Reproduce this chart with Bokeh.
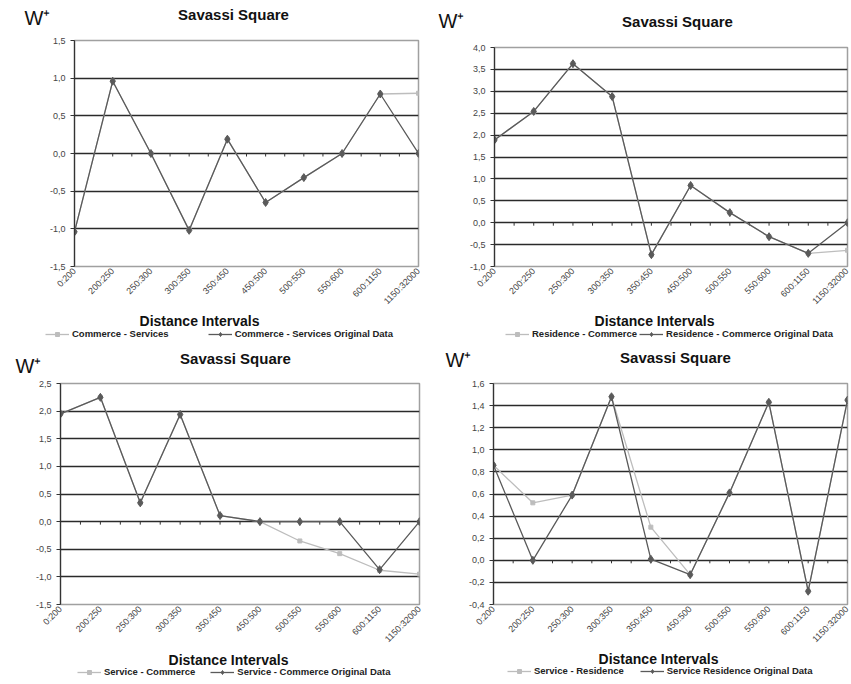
import math
import numpy as np
from bokeh.plotting import figure
from bokeh.layouts import column, row
from bokeh.models import (Range1d, FixedTicker, CustomJSTickFormatter, Label,
                          Legend, LegendItem)
from bokeh.embed import file_html
from bokeh.resources import INLINE

# ---------------- data ----------------
intervals = ["0:200", "200:250", "250:300", "300:350", "350:450", "450:500",
             "500:550", "550:600", "600:1150", "1150:32000"]

commerce_services = [-1.04, 0.96, 0.0, -1.02, 0.19, -0.65, -0.32, 0.0, 0.79, 0.80]
commerce_services_orig = [-1.04, 0.96, 0.0, -1.02, 0.19, -0.65, -0.32, 0.0, 0.79, 0.0]

residence_commerce = [1.89, 2.54, 3.63, 2.88, -0.73, 0.85, 0.23, -0.32, -0.70, -0.63]
residence_commerce_orig = [1.89, 2.54, 3.63, 2.88, -0.73, 0.85, 0.23, -0.32, -0.70, 0.0]

service_commerce = [1.95, 2.25, 0.34, 1.94, 0.11, 0.0, -0.35, -0.58, -0.88, -0.95]
service_commerce_orig = [1.95, 2.25, 0.34, 1.94, 0.11, 0.0, 0.0, 0.0, -0.87, 0.0]

service_residence = [0.86, 0.52, 0.59, 1.48, 0.30, -0.13, 0.61, 1.43, -0.28, 1.45]
service_residence_orig = [0.86, 0.0, 0.59, 1.48, 0.01, -0.13, 0.61, 1.43, -0.28, 1.45]

y_ticks_1 = [-1.5, -1.0, -0.5, 0.0, 0.5, 1.0, 1.5]
y_ticks_2 = [-1.0, -0.5, 0.0, 0.5, 1.0, 1.5, 2.0, 2.5, 3.0, 3.5, 4.0]
y_ticks_3 = [-1.5, -1.0, -0.5, 0.0, 0.5, 1.0, 1.5, 2.0, 2.5]
y_ticks_4 = [-0.4, -0.2, 0.0, 0.2, 0.4, 0.6, 0.8, 1.0, 1.2, 1.4, 1.6]

title_text = "Savassi Square"
x_title = "Distance Intervals"
w_text = "W\u207a"

FONT = "Liberation Sans"
DARK = "#5a5a5a"
LIGHT = "#bdbdbd"


def blank(width, height, yr=(0, 1)):
    f = figure(width=width, height=height, output_backend="svg",
               toolbar_location=None, title=None, min_border=0,
               x_axis_location=None, y_axis_location=None,
               x_range=Range1d(0, 1), y_range=Range1d(*yr))
    f.outline_line_color = None
    f.grid.grid_line_color = None
    f.background_fill_color = "white"
    f.border_fill_color = "white"
    return f


def text_label(fig, text, x, y, size, style, align="center"):
    fig.add_layout(Label(x=x, y=y, x_units="screen", y_units="screen",
                         text=text, text_font=FONT, text_font_size=size,
                         text_font_style=style, text_align=align,
                         text_baseline="middle", text_color="#111111"))


def draw_series(fig, light, dark):
    x = list(range(len(intervals)))
    l1 = fig.line(x, light, line_color=LIGHT, line_width=1.3)
    m1 = fig.scatter(x, light, marker="square", size=4,
                     fill_color=LIGHT, line_color=LIGHT)
    l2 = fig.line(x, dark, line_color=DARK, line_width=1.3)
    m2 = fig.scatter(x, dark, marker="diamond", size=8,
                     fill_color=DARK, line_color=DARK)
    return l1, m1, l2, m2


def make_panel(light, dark, light_name, dark_name, yticks, cell, frame,
               footer_top, w_pos, t_pos, xl_pos, leg_pos, leg_spacing):
    cx, cy, cw, ch = cell
    fl, ft, fr, fb = frame
    main_top = ft - 6

    # ---- header (W+ and title) ----
    header = blank(cw, main_top - cy)
    text_label(header, w_text, w_pos[0] - cx, main_top - w_pos[1], "20px", "normal")
    text_label(header, title_text, t_pos[0] - cx, main_top - t_pos[1], "15px", "bold")

    # ---- main chart ----
    p = figure(width=cw, height=footer_top - main_top, output_backend="svg",
               toolbar_location=None, title=None,
               x_range=Range1d(0, len(intervals) - 1),
               y_range=Range1d(yticks[0], yticks[-1]),
               min_border_left=fl - cx, min_border_right=cx + cw - fr,
               min_border_top=ft - main_top, min_border_bottom=footer_top - fb)
    p.background_fill_color = "white"
    p.border_fill_color = "white"
    p.outline_line_color = "#a0a0a0"
    p.outline_line_width = 1.5

    p.xaxis.ticker = FixedTicker(ticks=list(range(len(intervals))))
    p.xaxis.major_label_overrides = {i: s for i, s in enumerate(intervals)}
    p.xaxis.major_label_orientation = math.pi / 4
    p.xaxis.axis_line_color = None
    p.xaxis.major_tick_line_color = None
    p.xaxis.major_tick_in = 0
    p.xaxis.major_tick_out = 0
    p.xaxis.minor_tick_line_color = None
    p.xaxis.minor_tick_in = 0
    p.xaxis.minor_tick_out = 0
    p.xaxis.major_label_text_font = FONT
    p.xaxis.major_label_text_font_size = "9px"
    p.xaxis.major_label_text_color = "#444444"
    p.xaxis.major_label_standoff = 3

    p.yaxis.ticker = FixedTicker(ticks=yticks)
    p.yaxis.formatter = CustomJSTickFormatter(code="return tick.toFixed(1).replace('.', ',');")
    p.yaxis.axis_line_color = "#333333"
    p.yaxis.axis_line_width = 1.2
    p.yaxis.major_tick_line_color = "#333333"
    p.yaxis.major_tick_in = 0
    p.yaxis.major_tick_out = 4
    p.yaxis.minor_tick_line_color = None
    p.yaxis.major_label_text_font = FONT
    p.yaxis.major_label_text_font_size = "9px"
    p.yaxis.major_label_text_color = "#444444"
    p.yaxis.major_label_standoff = 5

    p.xgrid.grid_line_color = None
    p.ygrid.ticker = FixedTicker(ticks=yticks[1:-1])
    p.ygrid.grid_line_color = "#2a2a2a"
    p.ygrid.grid_line_width = 1.4

    # small tick marks along the zero line (category axis crossing at 0)
    half = np.arange(0, len(intervals) - 0.5, 0.5)
    p.ray(x=half, y=np.zeros_like(half), length=3, length_units="screen",
          angle=-math.pi / 2, line_color="#333333", line_width=1)

    draw_series(p, light, dark)

    # ---- footer (axis title and legend) ----
    # the footer's y range lies far from the data so its series stay hidden;
    # they only feed the legend swatches
    footer = blank(cw, cy + ch - footer_top, yr=(100, 101))
    fbot = cy + ch
    text_label(footer, x_title, xl_pos[0] - cx, fbot - xl_pos[1], "14px", "bold")
    l1, m1, l2, m2 = draw_series(footer, light, dark)
    legend = Legend(items=[LegendItem(label=light_name, renderers=[l1, m1]),
                           LegendItem(label=dark_name, renderers=[l2, m2])],
                    orientation="horizontal",
                    location=(leg_pos[0] - cx, fbot - leg_pos[1] - 5),
                    padding=0, margin=0, spacing=leg_spacing,
                    glyph_width=24, glyph_height=10, label_height=10,
                    label_standoff=3, border_line_color=None,
                    background_fill_alpha=0,
                    label_text_font=FONT, label_text_font_size="9.5px",
                    label_text_font_style="bold", label_text_color="#222222")
    footer.add_layout(legend)

    return column(row(header), row(p), row(footer), spacing=0)


c1 = make_panel(commerce_services, commerce_services_orig,
                "Commerce - Services", "Commerce - Services Original Data",
                y_ticks_1, (0, 0, 425, 340), (74, 40, 418, 268), 312,
                (37, 17), (233, 14), (199, 320), (45, 334), 39)
c2 = make_panel(residence_commerce, residence_commerce_orig,
                "Residence - Commerce", "Residence - Commerce Original Data",
                y_ticks_2, (425, 0, 425, 340), (494, 47, 847, 268), 312,
                (451, 20), (677, 21), (654, 320), (505, 334), 2)
c3 = make_panel(service_commerce, service_commerce_orig,
                "Service - Commerce", "Service - Commerce Original Data",
                y_ticks_3, (0, 340, 425, 342), (60, 383, 419, 606), 650,
                (28, 365), (235, 358), (228, 659), (77, 672), 15)
c4 = make_panel(service_residence, service_residence_orig,
                "Service - Residence", "Service Residence Original Data",
                y_ticks_4, (425, 340, 425, 342), (493, 383, 847, 606), 650,
                (458, 359), (675, 357), (658, 658), (507, 671), 16)

layout = column(row(c1, c2, spacing=0), row(c3, c4, spacing=0), spacing=0)
open("out.html", "w").write(file_html(layout, INLINE))
